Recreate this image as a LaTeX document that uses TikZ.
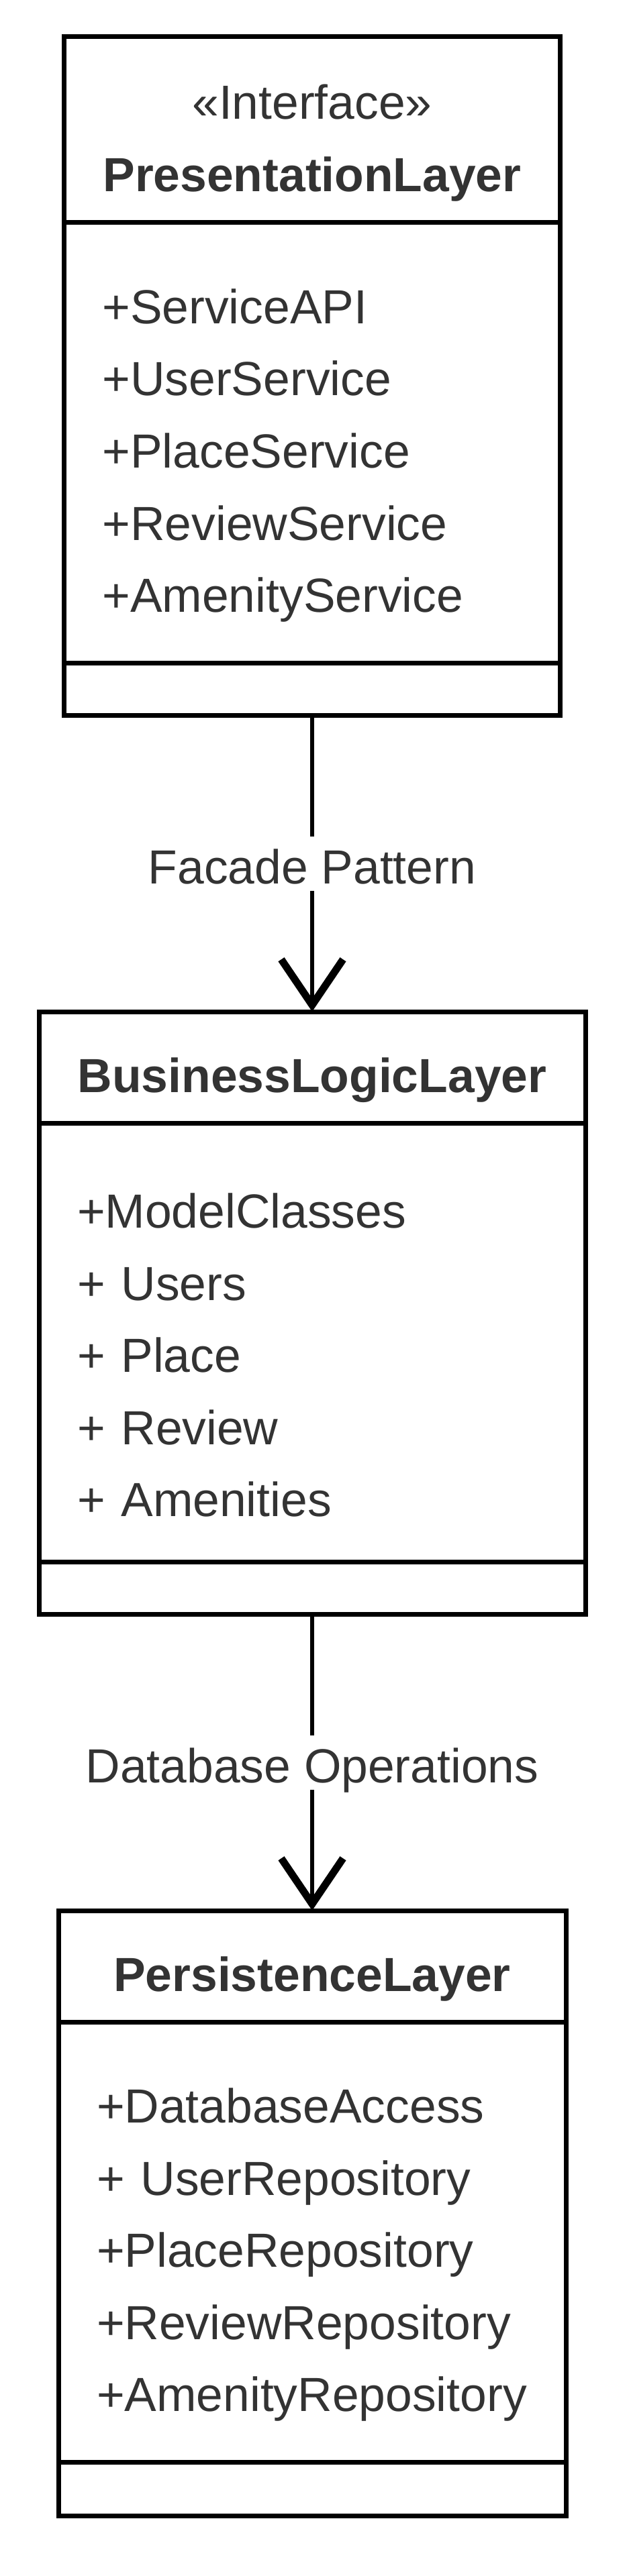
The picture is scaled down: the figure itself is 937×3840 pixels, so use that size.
\documentclass[tikz,border=0pt]{standalone}
\usepackage{fontspec}
\setmainfont{Liberation Sans}
\usetikzlibrary{arrows.meta, positioning}
\definecolor{txtgray}{HTML}{333333}

\begin{document}
\begin{tikzpicture}[x=0.25pt, y=-0.25pt, node distance=110.5pt,
  every node/.style={font=\fontsize{17.85}{26.9}\selectfont, text=txtgray},
  part/.style={rectangle, draw=black, line width=1.75pt, outer sep=0pt, inner sep=0pt},
  classhead/.style={part, minimum width=#1, minimum height=41.5pt, align=center, text height=22.5pt},
  classbody/.style={part, text width=#1, inner xsep=14.25pt, minimum height=164pt, align=left, text height=22.5pt},
  classfoot/.style={part, minimum width=#1, minimum height=19.5pt},
  dep/.style={line width=1.5pt, -{Straight Barb[length=17pt, width=23pt, line width=2.75pt]}},
  lbl/.style={fill=white, inner xsep=1.5pt, inner ysep=1.75pt, text height=16pt, text depth=0.75pt}]

\useasboundingbox (0,0) rectangle (937,3840);

\node[classhead=184.75pt, minimum height=69.25pt, text height=49.75pt, anchor=north] (presHead) at (465,55)
  {«Interface»\\\textbf{PresentationLayer}};
\node[classbody=156.25pt, below=0pt of presHead] (presBody)
  {+ServiceAPI\\+UserService\\+PlaceService\\+ReviewService\\+AmenityService};
\node[classfoot=184.75pt, below=0pt of presBody] (presFoot) {};

\node[classhead=203.5pt, below=of presFoot] (bizHead) {\textbf{BusinessLogicLayer}};
\node[classbody=175pt, minimum height=163.5pt, below=0pt of bizHead] (bizBody)
  {+ModelClasses\\+ Users\\+ Place\\+ Review\\+ Amenities};
\node[classfoot=203.5pt, below=0pt of bizBody] (bizFoot) {};

\node[classhead=189pt, below=of bizFoot] (persHead) {\textbf{PersistenceLayer}};
\node[classbody=160.5pt, below=0pt of persHead] (persBody)
  {+DatabaseAccess\\+ UserRepository\\+PlaceRepository\\+ReviewRepository\\+AmenityRepository};
\node[classfoot=189pt, minimum height=20pt, below=0pt of persBody] (persFoot) {};

\draw[dep] (presFoot) -- node[lbl] {Facade Pattern} (bizHead);
\draw[dep] (bizFoot) -- node[lbl] {Database Operations} (persHead);

\end{tikzpicture}
\end{document}
